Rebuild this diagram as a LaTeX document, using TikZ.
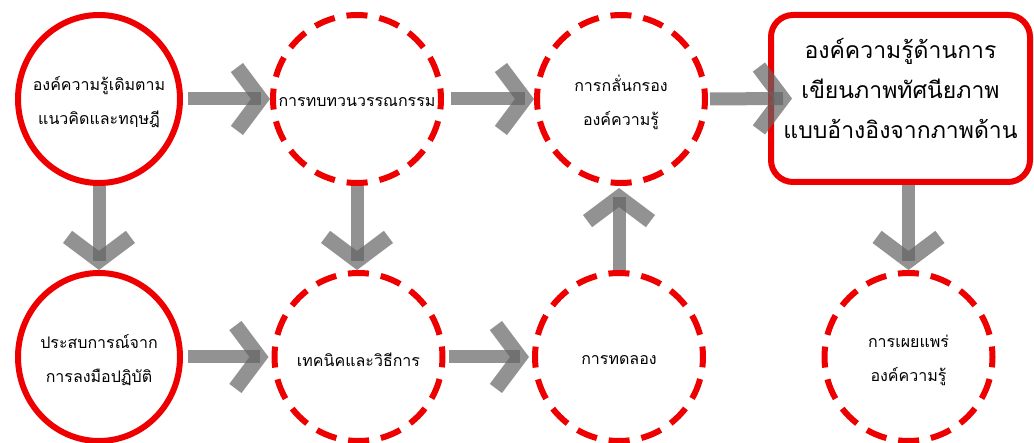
\documentclass[tikz,border=0pt]{standalone}
\usepackage{fontspec}
\newfontfamily\thaifont[Script=Thai]{Loma}
\usetikzlibrary{shapes.geometric}
\definecolor{ringred}{RGB}{238,0,0}
\definecolor{arrgray}{RGB}{100,100,100}
\begin{document}
\begin{tikzpicture}[x=1pt,y=1pt,
  ring/.style={draw=ringred, line width=6pt, inner sep=0pt},
  solidring/.style={ring, ellipse, minimum width=162pt, minimum height=168pt},
  dashring/.style={ring, circle, minimum size=168pt, dash pattern=on 21pt off 12pt, dash phase=10.5pt},
  boxring/.style={ring, rectangle, rounded corners=22pt, minimum width=259pt, minimum height=167pt},
  txt/.style={font=\thaifont\fontsize{16}{34}\selectfont, align=center, text=black, inner sep=0pt, yshift=-3pt},
  bigtxt/.style={font=\thaifont\fontsize{23}{40}\selectfont, align=center, text=black, inner sep=0pt},
  shaft/.style={draw=arrgray, draw opacity=0.7, line width=13pt},
  chev/.pic={\fill[arrgray, fill opacity=0.7] (0,0) -- (-27,36) -- (-39.2,26.9) -- (-19,0) -- (-39.2,-26.9) -- (-27,-36) -- cycle;}
]
\useasboundingbox (0,0) rectangle (1034,442);
\fill[white] (0,0) rectangle (1034,442);

% shapes
\node[solidring] (c1) at (99,343) {};
\node[dashring] (c2) at (357,343) {};
\node[dashring] (c3) at (621,343) {};
\node[boxring] (bx) at (900.5,343.5) {};
\node[solidring] (c4) at (99,85) {};
\node[dashring] (c5) at (358.5,85) {};
\node[dashring] (c6) at (619,85) {};
\node[dashring] (c7) at (908.5,85) {};

% texts
\node[txt] (t1) at (c1) {องค์ความรู้เดิมตาม\\แนวคิดและทฤษฎี};
\node[txt] (t2) at (c2) {การทบทวนวรรณกรรม};
\node[txt] (t3) at (c3) {การกลั่นกรอง\\องค์ความรู้};
\node[bigtxt] (t4) at ([yshift=10]bx.center) {องค์ความรู้ด้านการ\\เขียนภาพทัศนียภาพ\\แบบอ้างอิงจากภาพด้าน};
\node[txt] (t5) at (c4) {ประสบการณ์จาก\\การลงมือปฏิบัติ};
\node[txt] (t6) at (c5) {เทคนิคและวิธีการ};
\node[txt] (t7) at (c6) {การทดลอง};
\node[txt] (t8) at (c7) {การเผยแพร่\\องค์ความรู้};

% arrows
\draw[shaft] ([xshift=5]c1.east) -- ([xshift=-9]c2.west);
\pic at (c2.west) {chev};
\draw[shaft] ([xshift=7]c2.east) -- ([xshift=-9]c3.west);
\pic at (c3.west) {chev};
\draw[shaft] ([xshift=2]c3.east) -- ([xshift=15]bx.west);
\pic at ([xshift=24]bx.west) {chev};
\draw[shaft] (c1.south) -- ([yshift=9]c4.north);
\pic[rotate=-90] at (c4.north) {chev};
\draw[shaft] (c2.south) -- ([yshift=9]c2.south |- c5.north);
\pic[rotate=-90] at (c2.south |- c5.north) {chev};
\draw[shaft] (c6.north) -- ([yshift=-11]c6.north |- c3.south);
\pic[rotate=90] at ([yshift=-2]c6.north |- c3.south) {chev};
\draw[shaft] (bx.south -| c7.north) -- ([yshift=9]c7.north);
\pic[rotate=-90] at (c7.north) {chev};
\draw[shaft] ([xshift=5]c4.east) -- ([xshift=-12]c5.west);
\pic at ([xshift=-3]c5.west) {chev};
\draw[shaft] ([xshift=3]c5.east) -- ([xshift=-12]c6.west);
\pic at ([xshift=-3]c6.west) {chev};
\end{tikzpicture}
\end{document}
